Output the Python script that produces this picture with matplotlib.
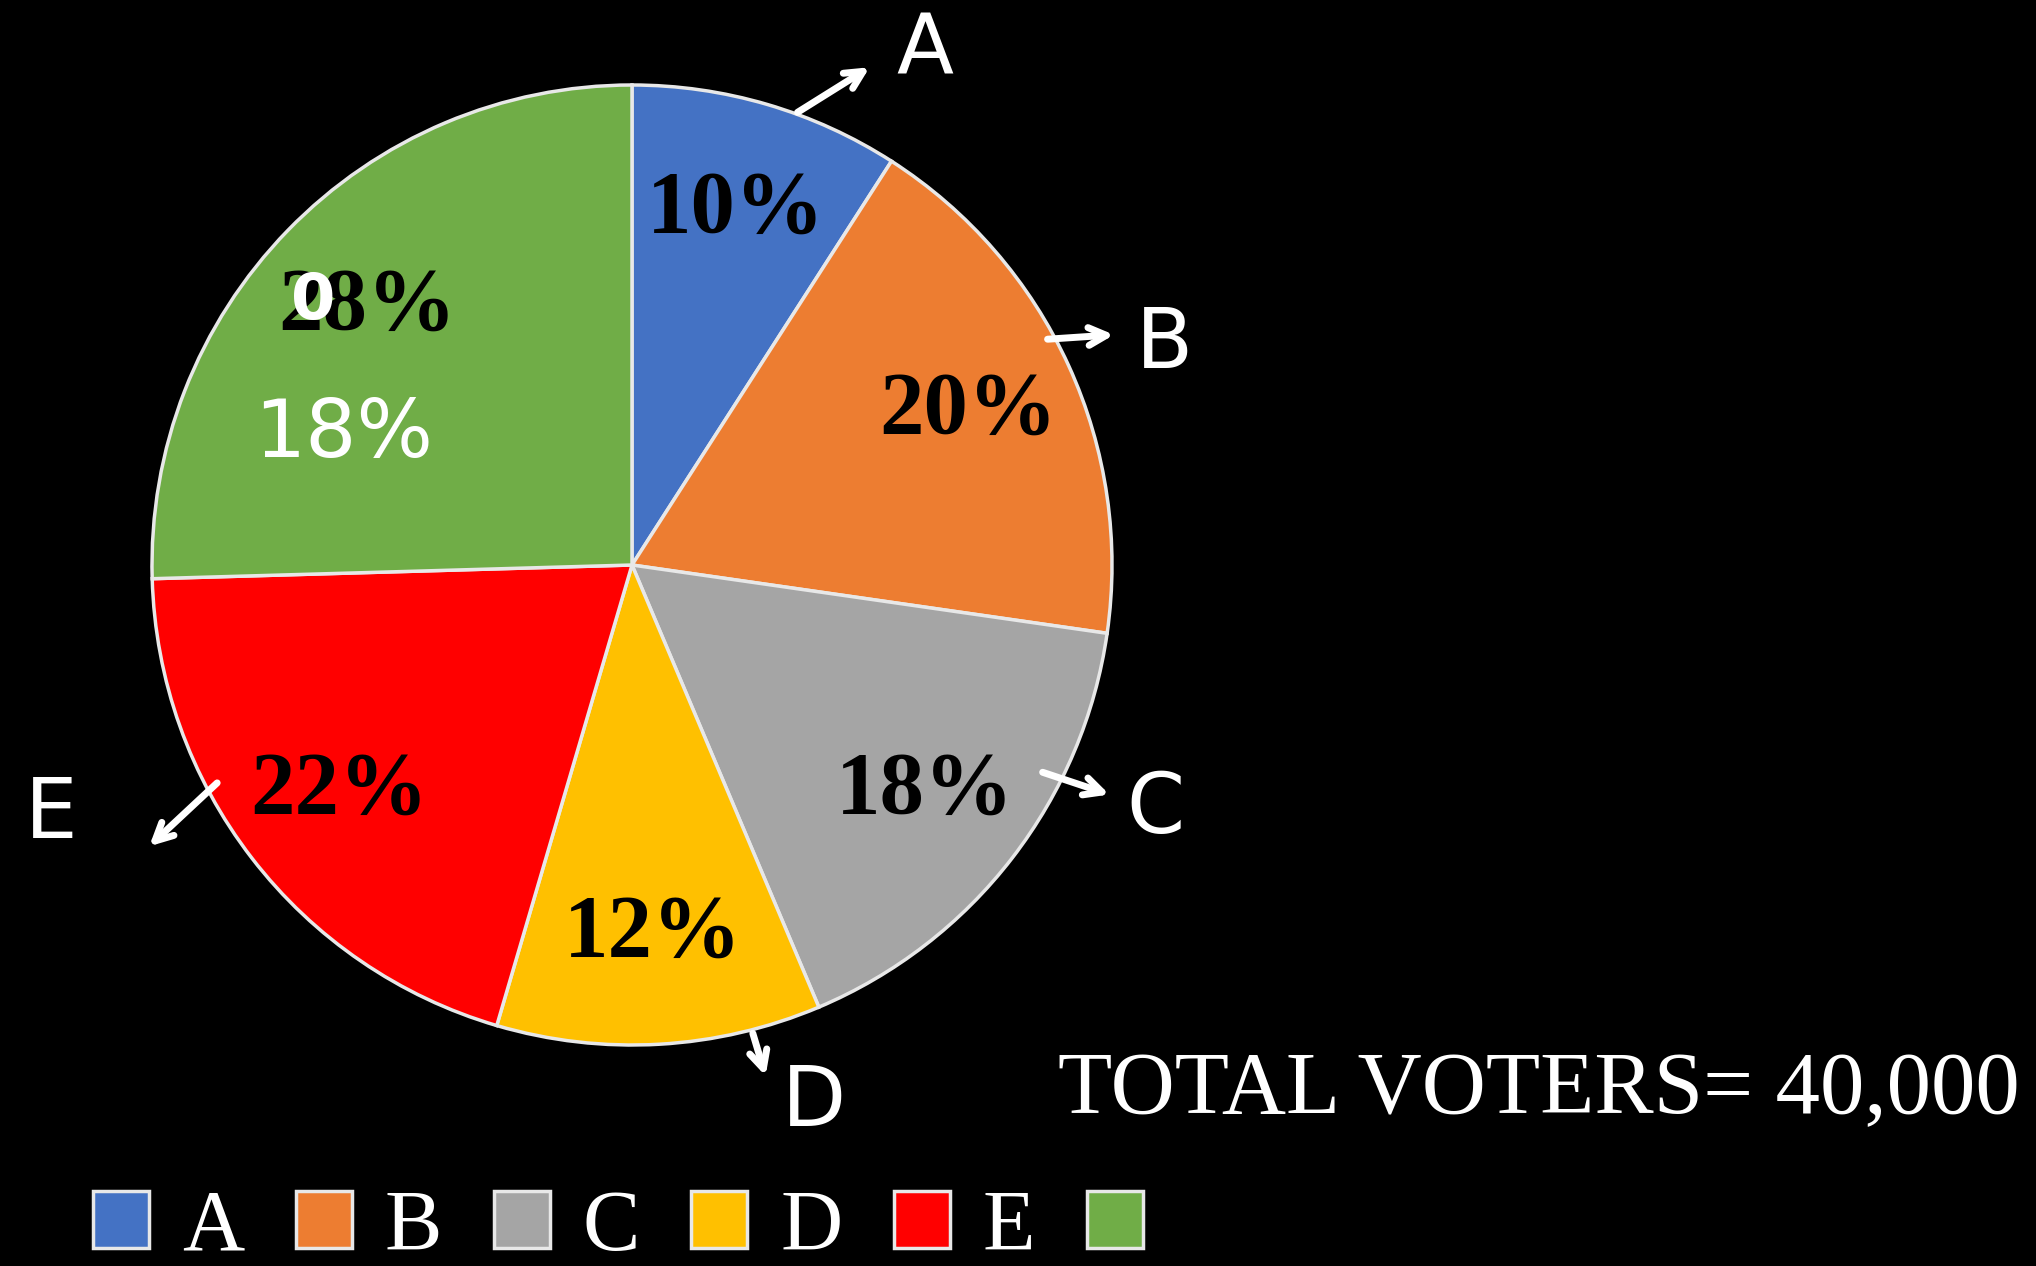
import matplotlib
matplotlib.use("Agg")
import matplotlib.pyplot as plt

# data
categories = ["A", "B", "C", "D", "E", ""]
values = [10, 20, 18, 12, 22, 28]
colors = ["#4472C4", "#ED7D31", "#A5A5A5", "#FFC000", "#FF0000", "#70AD47"]
total_text = "TOTAL VOTERS= 40,000"

# handwritten notes on top of the chart (letter, rim point, arrow tip, letter pos)
notes = [
    ("A", (0.34, 0.94), (0.50, 1.04), (0.61, 1.07)),
    ("B", (0.86, 0.47), (1.01, 0.48), (1.11, 0.46)),
    ("C", (0.85, -0.43), (1.00, -0.48), (1.09, -0.51)),
    ("D", (0.25, -0.97), (0.28, -1.07), (0.38, -1.12)),
    ("E", (-0.86, -0.45), (-1.01, -0.59), (-1.21, -0.52)),
]

plt.rcParams["font.family"] = ["Liberation Serif", "DejaVu Serif"]

fig = plt.figure(figsize=(20.36, 12.66), dpi=100, facecolor="black")
ax = fig.add_axes([152 / 2036, 221 / 1266, 960 / 2036, 960 / 1266])
ax.set_facecolor("black")

tot = sum(values)
wedges, texts, autotexts = ax.pie(
    values, colors=colors, startangle=90, counterclock=False,
    autopct=lambda p: "%d%%" % round(p * tot / 100.0), pctdistance=0.77,
    wedgeprops=dict(edgecolor="#E8E8E8", linewidth=2.5),
    textprops=dict(fontsize=64, fontweight="bold", color="black"))
ax.set_xlim(-1, 1)
ax.set_ylim(-1, 1)
ax.set_aspect("equal")
ax.axis("off")

# handwriting
hand = dict(color="white", family="DejaVu Sans")
for letter, p0, p1, pt in notes:
    ax.annotate("", xy=p1, xytext=p0, annotation_clip=False,
                arrowprops=dict(arrowstyle="->", color="white", lw=5,
                                mutation_scale=32))
    ax.text(pt[0], pt[1], letter, fontsize=60, ha="center", va="center", **hand)
ax.text(-0.60, 0.27, "18%", fontsize=58, ha="center", va="center", **hand)
ax.text(-0.665, 0.55, "0", fontsize=46, fontweight="bold", ha="center", va="center", **hand)

fig.legend(wedges, categories, loc="lower left", bbox_to_anchor=(50 / 2036, -0.036),
           ncol=6, frameon=False, fontsize=62, labelcolor="white",
           handlelength=0.65, handleheight=0.65, handletextpad=0.38,
           columnspacing=0.6, borderpad=0.0)

fig.text(1058 / 2036, 1 - 1113 / 1266, total_text, color="white",
         fontsize=64, ha="left", va="baseline")

fig.savefig("out.png", dpi=100, facecolor="black")
